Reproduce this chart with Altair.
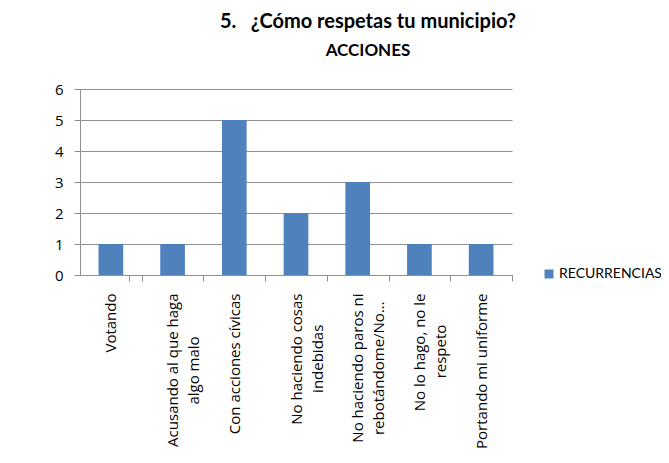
import altair as alt
import pandas as pd

categories = [
    "Votando",
    "Acusando al que haga|algo malo",
    "Con acciones cívicas",
    "No haciendo cosas|indebidas",
    "No haciendo paros ni|rebotándome/No...",
    "No lo hago, no le|respeto",
    "Portando mi uniforme",
]
values = [1, 1, 5, 2, 3, 1, 1]
series_name = "RECURRENCIAS"
title_main = "5.   ¿Cómo respetas tu municipio?"
title_sub = "ACCIONES"
y_ticks = [0, 1, 2, 3, 4, 5, 6]

# approximate Open Sans advance widths (em), used to centre wrapped label lines
W = {'a': .556, 'b': .613, 'c': .480, 'd': .613, 'e': .561, 'f': .336, 'g': .548,
     'h': .614, 'i': .258, 'j': .258, 'k': .534, 'l': .258, 'm': .930, 'n': .614,
     'o': .602, 'p': .613, 'q': .613, 'r': .409, 's': .478, 't': .353, 'u': .614,
     'v': .501, 'w': .778, 'x': .524, 'y': .501, 'z': .463, ' ': .260, 'á': .556,
     'í': .258, 'ó': .602, '/': .371, '.': .266, ',': .246, 'A': .633, 'N': .754,
     'P': .603, 'V': .592, 'C': .631}
NBSP = "\u00a0"
ZWSP = "\u200b"  # stops the renderer from trimming the padding


def width(s):
    return sum(W.get(ch, 0.55) for ch in s)


def centre_lines(label):
    parts = label.split("|")
    if len(parts) == 1:
        return label
    wmax = max(width(p) for p in parts)
    out = []
    for p in parts:
        n = int(round((wmax - width(p)) / 2 / W[' ']))
        out.append(p + NBSP * n + (ZWSP if n else ""))
    return "|".join(out)


display = [centre_lines(c) for c in categories]

df = pd.DataFrame({"cat": display, "val": values, "serie": [series_name] * len(values)})

LFONT = "Open Sans"
TFONT = "Lato"
BAR = "#4F81BD"
GRID = "#8F8F8F"
HALF_STEP = 432 / 7 / 2

xscale = alt.Scale(domain=display, paddingInner=0.6, paddingOuter=0.3)

chart = alt.Chart(df).mark_bar(color=BAR).encode(
    x=alt.X("cat:N", scale=xscale, sort=display, axis=alt.Axis(
        title=None, labelAngle=-90, labelExpr="split(datum.label, '|')",
        labelFont=LFONT, labelFontSize=15, labelColor="#000000", labelLineHeight=21,
        labelPadding=12, ticks=True, tickSize=6, tickColor=GRID, tickExtra=True,
        tickOffset=HALF_STEP, labelOffset=-HALF_STEP,
        domainColor=GRID, labelLimit=400, labelOverlap=False)),
    y=alt.Y("val:Q", scale=alt.Scale(domain=[0, 6]), axis=alt.Axis(
        title=None, values=y_ticks, grid=True, gridColor=GRID, domainColor=GRID,
        tickColor=GRID, tickSize=6, labelFont=LFONT, labelFontSize=15,
        labelColor="#000000", labelPadding=11, format="d")),
    color=alt.Color("serie:N", scale=alt.Scale(domain=[series_name], range=[BAR]),
                    legend=alt.Legend(title=None, orient="none", legendX=462, legendY=178,
                                      symbolType="square", symbolSize=80, labelOffset=3,
                                      labelFont=TFONT, labelFontSize=14, labelColor="#000000")),
).properties(
    width=432, height=186,
    title=alt.TitleParams(text=title_main.replace(" ", NBSP), subtitle=title_sub,
                          font=TFONT, fontSize=20, fontWeight="bold", color="#000000",
                          subtitleFont=TFONT, subtitleFontSize=17, subtitleFontWeight="bold",
                          subtitleColor="#000000", subtitlePadding=11,
                          anchor="middle", dx=72, offset=23),
    autosize=alt.AutoSizeParams(type="none"),
    padding={"left": 72, "top": 81, "right": 149, "bottom": 174},
).configure_view(stroke=None)

chart.save("out.html", embed_options={"renderer": "svg", "actions": False})
